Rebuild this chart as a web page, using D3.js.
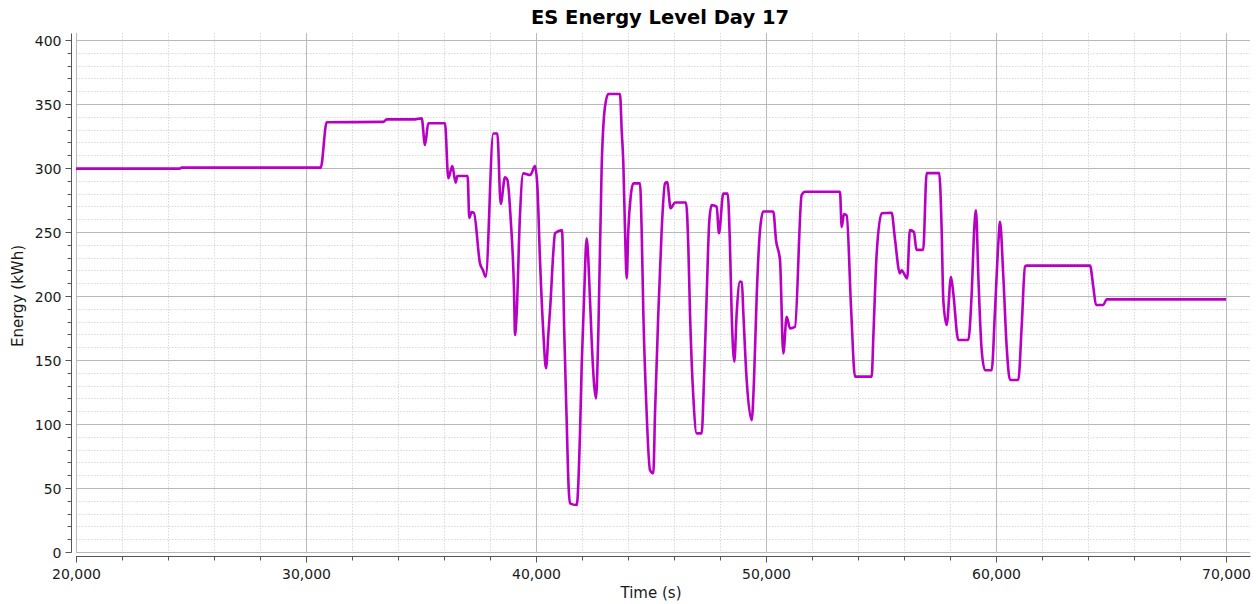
<!DOCTYPE html>
<html>
<head>
<meta charset="utf-8">
<script src="https://cdn.jsdelivr.net/npm/d3@7.9.0/dist/d3.min.js"></script>
<style>
  html, body { margin: 0; padding: 0; background: #fff; }
  svg { display: block; font-family: 'DejaVu Sans', sans-serif; }
  .minor-grid line { stroke: #d9d9d9; stroke-dasharray: 1.5 1.5; }
  .major-grid line { stroke: #b8b8b8; stroke-width: 1; }
  .tick-label { font-size: 14px; fill: #1a1a1a; }
</style>
</head>
<body>
<svg id="chart" width="1258" height="604"></svg>
<script>
// time (s) and energy level (kWh)
const timeValues = [
  20000, 24500, 24600, 30640, 30900, 33360, 33510, 34740, 35030, 35174,
  35317, 36043, 36187, 36361, 36507, 36579, 37027, 37100, 37200, 37300,
  37565, 37700, 37813, 38144, 38318, 38465, 38652, 38753, 38900, 39050,
  39087, 39160, 39300, 39449, 39750, 39957, 40060, 40174, 40320, 40435,
  40540, 40620, 40760, 40826, 41130, 41230, 41330, 41420, 41478, 41769,
  41913, 41985, 42087, 42203, 42348, 42420, 42522, 42609, 42710, 42855,
  43000, 43143, 43652, 43725, 43797, 43870, 43943, 44014, 44116, 44232,
  44522, 44594, 44667, 44783, 44957, 45101, 45174, 45318, 45464, 45609,
  45700, 45855, 46043, 46522, 46623, 46696, 46840, 46987, 47203, 47304,
  47420, 47536, 47638, 47855, 47956, 48142, 48333, 48435, 48507, 48622,
  48725, 48870, 48950, 49015, 49160, 49378, 49478, 49595, 49740, 49882,
  50317, 50435, 50609, 50752, 50900, 51044, 51261, 51551, 51696, 53217,
  53290, 53391, 53508, 53700, 53870, 54596, 54667, 54812, 55031, 55461,
  55604, 55822, 55895, 56140, 56256, 56430, 56543, 56834, 56986, 57530,
  57634, 57709, 57856, 58043, 58144, 58361, 58796, 58943, 59058, 59130,
  59232, 59377, 59522, 59812, 59957, 60101, 60174, 60319, 60465, 60609,
  60970, 61116, 61261, 61333, 64087, 64232, 64348, 64666, 64811, 70000
];

const energyValues = [
  299.5, 299.5, 300.3, 300.3, 335.7, 336, 338, 338, 338.8, 318,
  335, 335, 292, 301.5, 288.5, 293.7, 293.7, 261, 265.5, 265,
  225.5, 220, 215, 327, 327, 272, 292.7, 291, 260, 200,
  169.5, 186.5, 262, 295.8, 294.5, 301.5, 285.4, 228, 171, 143.5,
  171, 191.6, 236, 249, 251.5, 171, 105, 50, 38, 36.7,
  92.7, 144.8, 197, 245, 197, 165.6, 132, 120, 171, 301,
  348, 357.8, 357.8, 329.7, 303.7, 251.5, 213.8, 251.5, 277.6, 288,
  288, 251.5, 186.5, 121.4, 64, 61.5, 108, 186.5, 251.5, 288,
  289, 268.5, 273, 273, 238.5, 186.5, 121.4, 92.7, 92.7, 134.4,
  199.5, 259, 271, 269.8, 249, 280, 280, 238.5, 186.5, 148.7,
  186.5, 211.2, 211, 186.5, 134.4, 103, 134, 199.5, 251.5, 266,
  266, 243.7, 228, 155.2, 183.8, 174.7, 176, 279, 281.5, 281.5,
  254, 264, 263, 190, 137, 137, 168, 233, 264.6, 265,
  245, 217.7, 220, 213.8, 251.5, 250, 236, 236, 296, 296,
  254, 197, 177.3, 215, 202, 165.6, 165.6, 202, 254, 267,
  215, 157.8, 142, 142, 189, 241, 258, 215, 160, 134.4,
  134.4, 176, 223, 223.7, 223.7, 207, 193, 193, 197.4, 197.4
];

const xTicks = [20000, 30000, 40000, 50000, 60000, 70000];
const yTicks = [0, 50, 100, 150, 200, 250, 300, 350, 400];

const chartTitle = 'ES Energy Level Day 17';
const xLabel = 'Time (s)';
const yLabel = 'Energy (kWh)';

const data = timeValues.map((t, i) => ({ t, e: energyValues[i] }));

const plot = { left: 76, right: 1250, top: 33, bottom: 552 };

const xScale = d3.scaleLinear().domain([20000, 70000]).range([76, 1226]);
const yScale = d3.scaleLinear().domain([0, 400]).range([552, 40]);

const svg = d3.select('#chart');

svg.append('rect')
  .attr('x', plot.left)
  .attr('y', plot.top)
  .attr('width', plot.right - plot.left)
  .attr('height', plot.bottom - plot.top)
  .attr('fill', '#fff');

const xMinor = d3.range(20000, 70001, 2000).filter((d) => d % 10000 !== 0);
const yMinor = d3.range(0, 401, 10).filter((d) => d % 50 !== 0);

// minor gridlines (dotted)
const minor = svg.append('g').attr('class', 'minor-grid');
minor.selectAll('.vx')
  .data(xMinor)
  .join('line')
  .attr('x1', (d) => Math.round(xScale(d)) + 0.5)
  .attr('x2', (d) => Math.round(xScale(d)) + 0.5)
  .attr('y1', plot.top)
  .attr('y2', plot.bottom);
minor.selectAll('.hy')
  .data(yMinor)
  .join('line')
  .attr('x1', plot.left)
  .attr('x2', plot.right)
  .attr('y1', (d) => Math.round(yScale(d)) + 0.5)
  .attr('y2', (d) => Math.round(yScale(d)) + 0.5);

// major gridlines
const major = svg.append('g').attr('class', 'major-grid');
major.selectAll('.vx')
  .data(xTicks)
  .join('line')
  .attr('x1', (d) => Math.round(xScale(d)) + 0.5)
  .attr('x2', (d) => Math.round(xScale(d)) + 0.5)
  .attr('y1', plot.top)
  .attr('y2', plot.bottom)
  .attr('stroke-width', (d) => (d === 20000 ? 2 : 1))
  .attr('stroke', (d) => (d === 20000 ? '#d0d0d0' : '#b8b8b8'));
major.selectAll('.hy')
  .data(yTicks)
  .join('line')
  .attr('x1', plot.left)
  .attr('x2', plot.right)
  .attr('y1', (d) => Math.round(yScale(d)) + 0.5)
  .attr('y2', (d) => Math.round(yScale(d)) + 0.5);

// x axis
const xAxisY = 556;
const xAxis = svg.append('g').attr('transform', `translate(0.5, ${xAxisY + 0.5})`);
xAxis.append('line')
  .attr('x1', plot.left - 0.5)
  .attr('x2', plot.right)
  .attr('stroke', '#555');
xAxis.selectAll('.minor-tick')
  .data(xMinor)
  .join('line')
  .attr('x1', (d) => Math.round(xScale(d)))
  .attr('x2', (d) => Math.round(xScale(d)))
  .attr('y1', 0)
  .attr('y2', 4)
  .attr('stroke', '#555');
xAxis.selectAll('.major-tick')
  .data(xTicks)
  .join('line')
  .attr('x1', (d) => Math.round(xScale(d)))
  .attr('x2', (d) => Math.round(xScale(d)))
  .attr('y1', 0)
  .attr('y2', 6)
  .attr('stroke', '#555');
xAxis.selectAll('text')
  .data(xTicks)
  .join('text')
  .attr('class', 'tick-label')
  .attr('x', (d) => xScale(d))
  .attr('y', 22)
  .attr('text-anchor', 'middle')
  .text((d) => d3.format(',')(d));

// y axis
const yAxisX = 71;
const yAxis = svg.append('g').attr('transform', `translate(${yAxisX + 0.5}, 0.5)`);
yAxis.append('line')
  .attr('y1', plot.top)
  .attr('y2', plot.bottom)
  .attr('stroke', '#555');
yAxis.selectAll('.minor-tick')
  .data(yMinor)
  .join('line')
  .attr('x1', -4)
  .attr('x2', 0)
  .attr('y1', (d) => Math.round(yScale(d)))
  .attr('y2', (d) => Math.round(yScale(d)))
  .attr('stroke', '#555');
yAxis.selectAll('.major-tick')
  .data(yTicks)
  .join('line')
  .attr('x1', -6)
  .attr('x2', 0)
  .attr('y1', (d) => Math.round(yScale(d)))
  .attr('y2', (d) => Math.round(yScale(d)))
  .attr('stroke', '#555');
yAxis.selectAll('text')
  .data(yTicks)
  .join('text')
  .attr('class', 'tick-label')
  .attr('x', -10)
  .attr('y', (d) => yScale(d))
  .attr('dy', '0.36em')
  .attr('text-anchor', 'end')
  .text((d) => d);

// series line
const line = d3.line()
  .curve(d3.curveMonotoneX)
  .x((d) => xScale(d.t))
  .y((d) => yScale(d.e));

svg.append('path')
  .datum(data)
  .attr('d', line)
  .attr('fill', 'none')
  .attr('stroke', '#b800c4')
  .attr('stroke-width', 2.6)
  .attr('stroke-linejoin', 'round');

// title and axis labels
svg.append('text')
  .attr('x', 660)
  .attr('y', 24)
  .attr('text-anchor', 'middle')
  .style('font-size', '19.5px')
  .style('font-weight', 'bold')
  .attr('fill', '#000')
  .text(chartTitle);

svg.append('text')
  .attr('x', 651)
  .attr('y', 598)
  .attr('text-anchor', 'middle')
  .style('font-size', '15px')
  .attr('fill', '#1a1a1a')
  .text(xLabel);

svg.append('text')
  .attr('transform', 'translate(23, 296) rotate(-90)')
  .attr('text-anchor', 'middle')
  .style('font-size', '15px')
  .attr('fill', '#1a1a1a')
  .text(yLabel);
</script>
</body>
</html>
